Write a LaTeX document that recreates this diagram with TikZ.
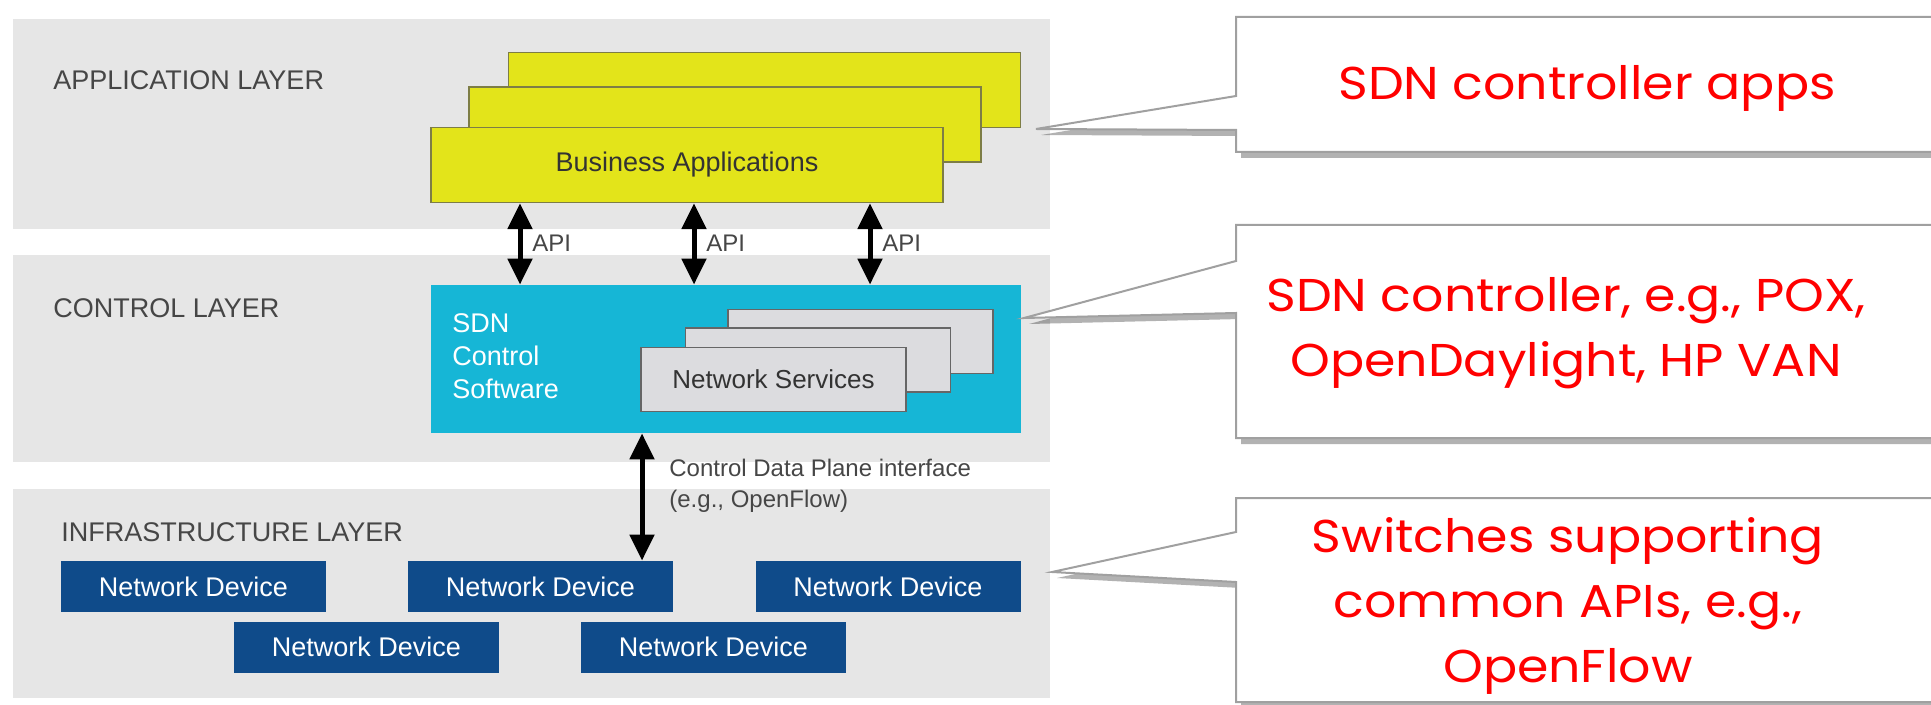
\documentclass[tikz,border=0pt]{standalone}
\usepackage{fontspec}
\setmainfont{Liberation Sans}
\newfontfamily\callfont[FakeStretch=1.1]{Poppins}
\usetikzlibrary{arrows.meta,shadows}
\definecolor{panel}{RGB}{230,230,230}
\definecolor{appyellow}{RGB}{227,228,26}
\definecolor{appedge}{RGB}{125,125,70}
\definecolor{ctrlcyan}{RGB}{22,182,214}
\definecolor{nsgray}{RGB}{220,220,223}
\definecolor{devblue}{RGB}{15,75,138}
\definecolor{labelgray}{RGB}{70,70,70}
\definecolor{calledge}{RGB}{160,160,160}
\begin{document}
\begin{tikzpicture}[x=0.5pt,y=-0.5pt,
  panelbox/.style={fill=panel, draw=none, inner sep=0pt},
  appbox/.style={fill=appyellow, draw=appedge, line width=0.7pt, minimum width=256pt, minimum height=37.5pt, inner sep=0pt, font=\fontsize{13.5}{16}\selectfont, text=black!80},
  ctrlbox/.style={fill=ctrlcyan, draw=none, minimum width=295pt, minimum height=74pt, inner sep=0pt},
  nsbox/.style={fill=nsgray, draw=black!60, line width=0.7pt, minimum width=132.5pt, minimum height=32pt, inner sep=0pt, font=\fontsize{13}{16}\selectfont, text=black!80},
  devbox/.style={fill=devblue, draw=none, text=white, minimum width=132.5pt, minimum height=25.5pt, inner sep=0pt, font=\fontsize{13.5}{16}\selectfont},
  layerlabel/.style={text=labelgray, anchor=west, inner sep=0pt, font=\fontsize{13.5}{16}\selectfont},
  smalllabel/.style={text=labelgray, anchor=west, inner sep=0pt, font=\fontsize{12}{14}\selectfont},
  biarrow/.style={line width=2.5pt, {Triangle[length=13pt,width=12pt]}-{Triangle[length=13pt,width=12pt]}},
  callout/.style={fill=white, draw=calledge, line width=1pt, drop shadow={shadow xshift=2.5pt, shadow yshift=-3pt, fill=black, opacity=0.3}},
  calltext/.style={text=red, align=center, inner sep=0pt, font=\callfont\fontsize{23}{32.5}\selectfont}
]
\useasboundingbox (0,0) rectangle (1931,705);
\fill[white] (0,0) rectangle (1931,705);

% layer panels
\node[panelbox, minimum width=518.5pt, minimum height=105pt] (appL) at (531.5,124) {};
\node[panelbox, minimum width=518.5pt, minimum height=103.5pt] (ctrlL) at (531.5,358.5) {};
\node[panelbox, minimum width=518.5pt, minimum height=104.5pt] (infL) at (531.5,593.5) {};

\node[layerlabel] (appT) at (53,80) {APPLICATION LAYER};
\node[layerlabel] (ctrlT) at (53,308) {CONTROL LAYER};
\node[layerlabel] (infT) at (61,532) {INFRASTRUCTURE LAYER};

% application boxes
\node[appbox] (app3) at (764.5,90) {};
\node[appbox] (app2) at (725,124.5) {};
\node[appbox] (app1) at (687,165) {Business Applications};

% control software
\node[ctrlbox] (ctrl) at (726,359) {};
\node[text=white, align=left, anchor=north west, inner sep=0pt, font=\fontsize{13.5}{16.5}\selectfont] (ctrlTxt) at (452,313) {SDN\\Control\\Software};
\node[nsbox] (ns3) at (860.5,341.5) {};
\node[nsbox] (ns2) at (818,360) {};
\node[nsbox] (ns1) at (773.5,379.5) {Network Services};

% network devices
\node[devbox] (nd1) at (193.5,586.5) {Network Device};
\node[devbox] (nd2) at (540.5,586.5) {Network Device};
\node[devbox] (nd3) at (888,586.5) {Network Device};
\node[devbox] (nd4) at (366.5,647) {Network Device};
\node[devbox] (nd5) at (713.5,647) {Network Device};

% API arrows
\coordinate (a1) at (520,0);
\coordinate (a2) at (694,0);
\coordinate (a3) at (870,0);
\coordinate (a4) at (642,0);
\draw[biarrow] (app1.south -| a1) -- (ctrl.north -| a1);
\draw[biarrow] (app1.south -| a2) -- (ctrl.north -| a2);
\draw[biarrow] (app1.south -| a3) -- (ctrl.north -| a3);
\node[smalllabel] (api1) at (532,243) {API};
\node[smalllabel] (api2) at (706,243) {API};
\node[smalllabel] (api3) at (882,243) {API};

% control data plane arrow
\draw[biarrow] (ctrl.south -| a4) -- (nd2.north -| a4);
\node[smalllabel] (cdp1) at (669,468) {Control Data Plane interface};
\node[smalllabel] (cdp2) at (669,501) {(e.g., OpenFlow)};

% callouts
\path[callout] (1236,17) -- (1940,17) -- (1940,152) -- (1236,152) -- (1236,130) -- (1036,129) -- (1236,96) -- cycle;
\path[callout] (1236,225) -- (1940,225) -- (1940,438) -- (1236,438) -- (1236,313) -- (1024,318) -- (1236,261) -- cycle;
\path[callout] (1236,498) -- (1940,498) -- (1940,702) -- (1236,702) -- (1236,582) -- (1052,572) -- (1236,532) -- cycle;

\node[calltext] (c1) at (1587,88) {SDN controller apps};
\node[calltext] (c2) at (1566,333) {SDN controller, e.g., POX,\\OpenDaylight, HP VAN};
\node[calltext] (c3) at (1568,606) {Switches supporting\\common APIs, e.g.,\\OpenFlow};
\end{tikzpicture}
\end{document}
